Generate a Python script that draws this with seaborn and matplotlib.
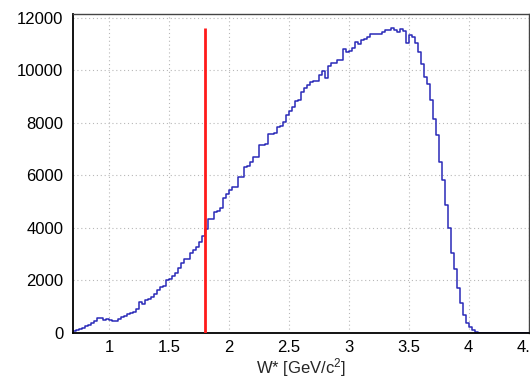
import numpy as np
import pandas as pd
import matplotlib
matplotlib.use("Agg")
import matplotlib.pyplot as plt
import seaborn as sns
from matplotlib.ticker import MultipleLocator, FuncFormatter

# histogram binning: 152 bins of 0.025 between 0.7 and 4.5
bin_lo = 0.7
bin_hi = 4.5
n_bins = 152

# bin contents (left to right)
counts = [
    90, 130, 160, 200, 260, 310, 390, 470, 560, 570,
    500, 520, 500, 470, 457, 520, 600, 650, 720, 760,
    810, 900, 1170, 1100, 1260, 1290, 1360, 1490, 1640, 1770,
    1780, 2020, 2050, 2170, 2300, 2460, 2650, 2810, 2820, 3040,
    3160, 3290, 3480, 3700, 3950,
    4340, 4350, 4620, 4630, 4760, 5140, 5300, 5450, 5570, 5580,
    5950, 5960, 6340, 6350, 6530, 6700, 6710, 7160, 7170, 7200,
    7580, 7590, 7600, 7860, 7870, 8050, 8300,
    8460, 8620, 8840, 8870, 9190, 9320, 9450, 9570, 9580, 9600,
    9830, 9980, 9730, 10180, 10270, 10280, 10400, 10410, 10800, 10720,
    10730, 10840, 11070, 11000, 11160, 11200, 11290, 11380, 11380, 11390,
    11400, 11480, 11540, 11540, 11600, 11550, 11450, 11570, 11500, 11050,
    11350, 11290, 11050, 10690, 10240, 9770, 9490, 8880, 8150, 7540,
    6530, 5830, 4880, 4000, 3050, 2440, 1710, 1140, 690, 380,
    230, 110, 40, 15, 5,
    0, 0, 0, 0, 0, 0, 0, 0, 0, 0, 0, 0, 0, 0, 0,
]

cut_value = 1.8
x_label = "W* [GeV/c$^{2}$]"

edges = np.linspace(bin_lo, bin_hi, n_bins + 1)
centers = 0.5 * (edges[:-1] + edges[1:])
df = pd.DataFrame({"w": centers, "n": counts})

sns.set_style("white")
plt.rcParams["font.family"] = ["Liberation Sans", "DejaVu Sans"]
plt.rcParams["mathtext.default"] = "regular"

fig = plt.figure(figsize=(5.3, 3.8), dpi=100)
ax = fig.add_axes([73 / 530, 47 / 380, 455.5 / 530, 319.5 / 380])

sns.histplot(data=df, x="w", weights="n", bins=list(edges),
             element="step", fill=False, color="#2a2ab8",
             linewidth=1.1, ax=ax)

# cut line up to the histogram maximum
ax.vlines(cut_value, 0, max(counts), color="#ff1a1a", linewidth=2.0,
          zorder=5)

ax.set_xlim(bin_lo, bin_hi)
ax.set_ylim(0, 12170)

ax.xaxis.set_major_locator(MultipleLocator(0.5))
ax.xaxis.set_minor_locator(MultipleLocator(0.1))
ax.yaxis.set_major_locator(MultipleLocator(2000))
ax.yaxis.set_minor_locator(MultipleLocator(500))
ax.xaxis.set_major_formatter(FuncFormatter(lambda v, p: f"{v:g}"))
ax.yaxis.set_major_formatter(FuncFormatter(lambda v, p: f"{v:.0f}"))

ax.tick_params(which="both", direction="in", top=False, right=False,
               colors="black", labelsize=12, width=1.0)
ax.tick_params(axis="x", which="major", length=6.5, pad=5)
ax.tick_params(axis="x", which="minor", length=3.4)
ax.tick_params(axis="y", which="major", length=9.5, pad=7)
ax.tick_params(axis="y", which="minor", length=5)

ax.grid(True, which="major", linestyle=(0, (1, 2.5)), color="#b8b8b8",
        linewidth=0.8)
ax.set_axisbelow(True)

for side in ["left", "bottom"]:
    ax.spines[side].set_color("black")
    ax.spines[side].set_linewidth(1.3)
for side in ["top", "right"]:
    ax.spines[side].set_color("#444444")
    ax.spines[side].set_linewidth(1.0)

ax.set_ylabel("")
ax.set_xlabel(x_label, fontsize=12, labelpad=0.5)

fig.savefig("out.png", dpi=100)
